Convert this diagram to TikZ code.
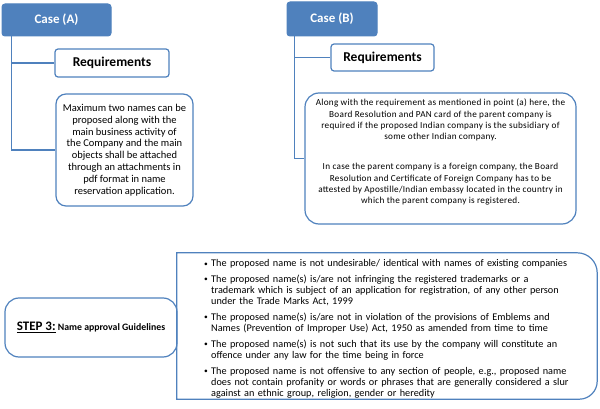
\documentclass[tikz,border=0pt]{standalone}
\usepackage{fontspec}
\setmainfont{Carlito}
\newfontfamily\spacedfont[LetterSpace=3]{Carlito}
\definecolor{accblue}{HTML}{4F81BD}
\newcommand{\bitem}[1]{\hangindent=7pt\hangafter=1\noindent\makebox[7pt][l]{\raisebox{0.8pt}{\fontsize{7.5}{7.5}\selectfont\textbullet}}#1\par}
\begin{document}
\begin{tikzpicture}[x=1pt,y=1pt,
  casebox/.style={draw=accblue,fill=accblue,rounded corners=3pt,line width=1pt,
    text=white,font=\fontsize{13}{15}\selectfont\bfseries,inner sep=0pt},
  reqbox/.style={draw=accblue,rounded corners=3pt,line width=1.2pt,
    font=\fontsize{13.5}{15}\selectfont\bfseries,inner sep=0pt},
  txtbox/.style={draw=accblue,rounded corners=10pt,line width=1.2pt,inner sep=0pt,align=center},
  conn/.style={draw=accblue,line width=1.3pt}]
\useasboundingbox (0,0) rectangle (600,408);

% Case A
\node[casebox,minimum width=109pt,minimum height=32pt] (caseA) at (56.5,388) {Case (A)};
\node[reqbox,minimum width=114pt,minimum height=28pt] (reqA) at (112,345) {Requirements};
\node[txtbox,minimum width=137pt,minimum height=112pt,
  font=\fontsize{10.5}{11.8}\selectfont] (textA) at (124.5,258)
  {Maximum two names can be\\proposed along with the\\main  business activity of\\the Company and the main\\objects shall be attached\\through an attachments in\\pdf format in name\\reservation application.};
\coordinate (a0) at ([xshift=10pt]caseA.south west);
\draw[conn] (a0) |- (reqA.west);
\draw[conn] (a0) |- (textA.west);

% Case B
\node[casebox,minimum width=90pt,minimum height=34pt] (caseB) at (332,389) {Case (B)};
\node[reqbox,minimum width=103pt,minimum height=27pt] (reqB) at (382.5,350.5) {Requirements};
\node[txtbox,minimum width=271pt,minimum height=131pt,rounded corners=14pt,
  font=\spacedfont\fontsize{9.2}{11.3}\selectfont] (textB) at (440.5,249.5)
  {Along with the requirement  as mentioned in point (a) here, the\\Board Resolution and PAN card of the parent company is\\required if the proposed Indian company is the subsidiary of\\some other Indian company.\\[18.7pt]In case the parent company is a foreign company, the Board\\Resolution and Certificate of Foreign Company has to be\\attested by Apostille/Indian embassy located in the country in\\which the parent company is registered.\\[3pt]\mbox{}};
\coordinate (b0) at ([xshift=8pt]caseB.south west);
\draw[conn] (b0) |- (reqB.west);
\draw[conn] (b0) |- (textB.west);

% Step 3
\node[txtbox,minimum width=172pt,minimum height=59pt,rounded corners=14pt] (step) at (91,80.5)
  {\fontsize{13}{15}\selectfont\bfseries\underline{STEP 3:}\fontsize{9.8}{15}\selectfont\ Name approval  Guidelines};

% Guidelines box
\node[minimum width=420pt,minimum height=146pt,inner sep=0pt] (gbox) at (387,82) {};
\draw[draw=accblue,line width=1.2pt] (gbox.south west) -- (gbox.north west)
  -- ([xshift=-20pt]gbox.north east) arc[start angle=90,end angle=0,radius=20pt]
  -- ([yshift=18pt]gbox.south east) arc[start angle=0,end angle=-90,radius=18pt]
  -- cycle;
\node[anchor=north west,inner sep=0pt,text width=385pt,align=left,
  font=\fontsize{10.25}{11}\selectfont] (glist) at (204,148.5)
  {\parskip=4.8pt
  \bitem{The proposed name is not undesirable/ identical with names of existing companies}
  \bitem{The proposed name(s) is/are not infringing the registered trademarks or a\newline trademark which is subject of an application for registration, of any other person\newline under the Trade Marks Act, 1999}
  \bitem{The proposed name(s) is/are not in violation of the provisions of Emblems and\newline Names (Prevention of Improper Use) Act, 1950 as amended from time to time}
  \bitem{The proposed name(s) is not such that its use by the company will constitute an\newline offence under any law for the time being in force}
  \bitem{The proposed name is not offensive to any section of people, e.g., proposed name\newline does not contain profanity or words or phrases that are generally considered a slur\newline against an ethnic group, religion, gender or heredity}};
\end{tikzpicture}
\end{document}
